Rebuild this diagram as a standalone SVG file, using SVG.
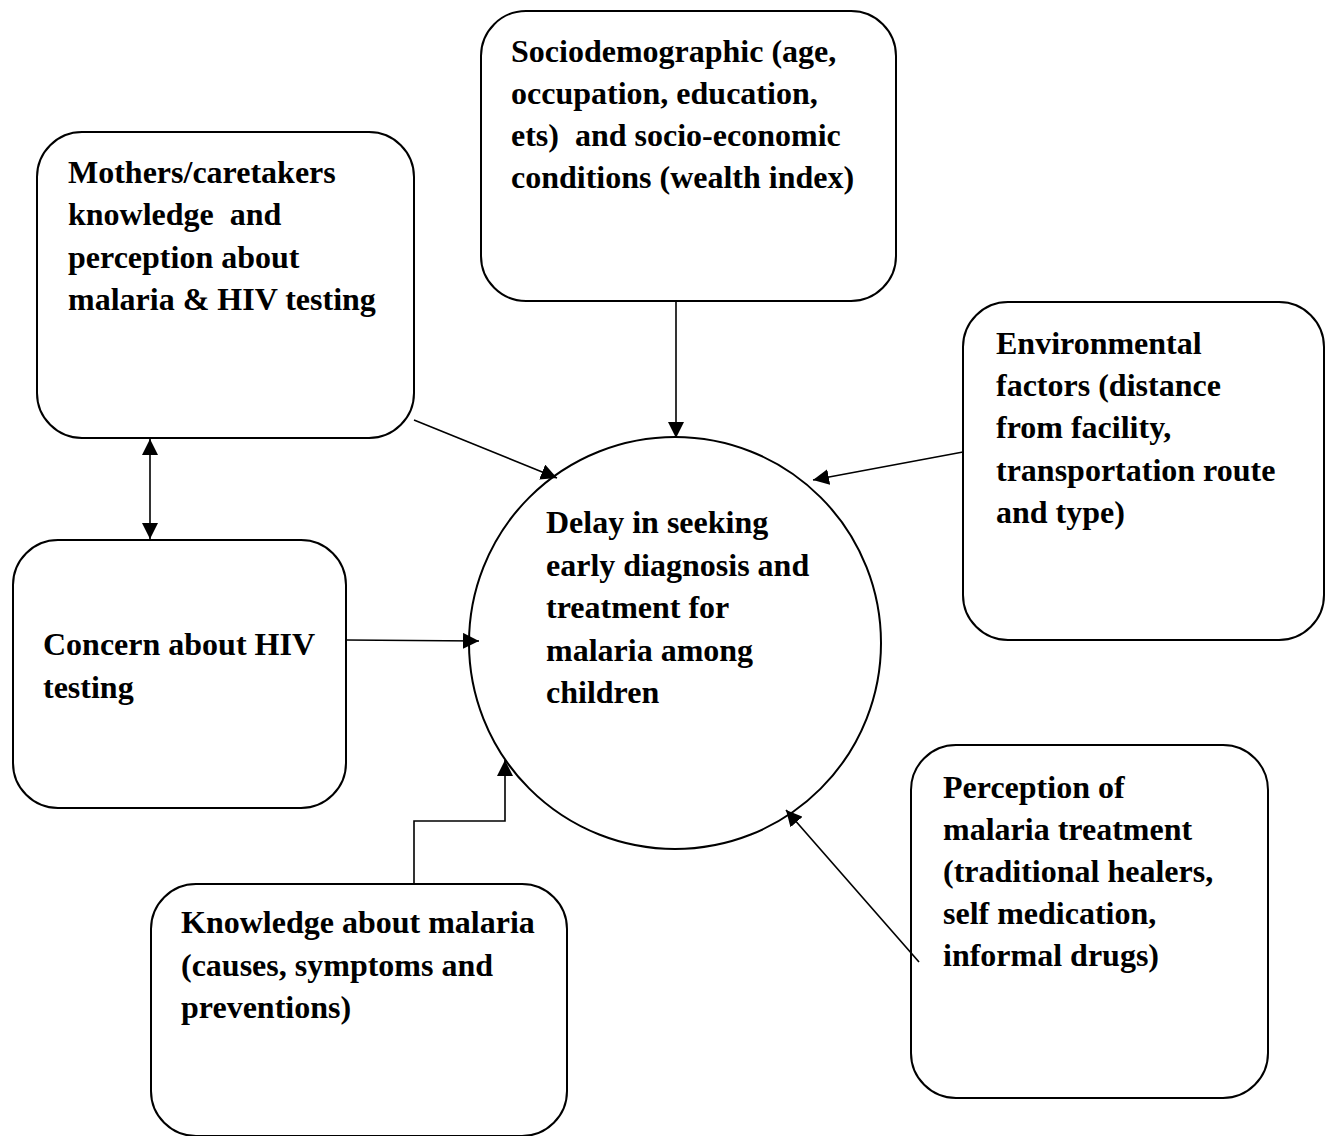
<svg xmlns="http://www.w3.org/2000/svg" width="1330" height="1136" viewBox="0 0 1330 1136">
<defs>
<style>
.box{fill:#fff;stroke:#000;stroke-width:2}
.t{font-family:"Liberation Serif","Times New Roman",serif;font-weight:bold;font-size:32px;fill:#000;white-space:pre}
.c{fill:none;stroke:#000;stroke-width:1.6}
</style>
<marker id="ah" viewBox="0 0 10 10" refX="10" refY="5" markerWidth="16" markerHeight="16" markerUnits="userSpaceOnUse" orient="auto-start-reverse">
<path d="M0,0 L10,5 L0,10 z" fill="#000"/>
</marker>
</defs>
<rect width="1330" height="1136" fill="#fff"/>
<g id="mothers">
<rect class="box" x="37" y="132" width="377" height="306" rx="45"/>
<text class="t" x="68" y="183">Mothers/caretakers</text>
<text class="t" x="68" y="225">knowledge  and</text>
<text class="t" x="68" y="268">perception about</text>
<text class="t" x="68" y="310">malaria &amp; HIV testing</text>
</g>
<g id="socio">
<rect class="box" x="481" y="11" width="415" height="290" rx="45"/>
<text class="t" x="511" y="62">Sociodemographic (age,</text>
<text class="t" x="511" y="104">occupation, education,</text>
<text class="t" x="511" y="146">ets)  and socio-economic</text>
<text class="t" x="511" y="188">conditions (wealth index)</text>
</g>
<g id="env">
<rect class="box" x="963" y="302" width="361" height="338" rx="45"/>
<text class="t" x="996" y="354">Environmental</text>
<text class="t" x="996" y="396">factors (distance</text>
<text class="t" x="996" y="438">from facility,</text>
<text class="t" x="996" y="481">transportation route</text>
<text class="t" x="996" y="523">and type)</text>
</g>
<g id="delay">
<circle cx="675" cy="643" r="206" fill="#fff" stroke="#000" stroke-width="2"/>
<text class="t" x="546" y="533">Delay in seeking</text>
<text class="t" x="546" y="576">early diagnosis and</text>
<text class="t" x="546" y="618">treatment for</text>
<text class="t" x="546" y="661">malaria among</text>
<text class="t" x="546" y="703">children</text>
</g>
<g id="concern">
<rect class="box" x="13" y="540" width="333" height="268" rx="45"/>
<text class="t" x="43" y="655">Concern about HIV</text>
<text class="t" x="43" y="698">testing</text>
</g>
<g id="knowledge">
<rect class="box" x="151" y="884" width="416" height="252" rx="45"/>
<text class="t" x="181" y="933">Knowledge about malaria</text>
<text class="t" x="181" y="976">(causes, symptoms and</text>
<text class="t" x="181" y="1018">preventions)</text>
</g>
<g id="perception">
<rect class="box" x="911" y="745" width="357" height="353" rx="45"/>
<text class="t" x="943" y="798">Perception of</text>
<text class="t" x="943" y="840">malaria treatment</text>
<text class="t" x="943" y="882">(traditional healers,</text>
<text class="t" x="943" y="924">self medication,</text>
<text class="t" x="943" y="966">informal drugs)</text>
</g>
<g id="connectors">
<line class="c" x1="414" y1="420" x2="557" y2="478" marker-end="url(#ah)"/>
<line class="c" x1="676" y1="301" x2="676" y2="438" marker-end="url(#ah)"/>
<line class="c" x1="963" y1="452" x2="813" y2="480" marker-end="url(#ah)"/>
<line class="c" x1="346" y1="640" x2="479" y2="641" marker-end="url(#ah)"/>
<polyline class="c" points="414,884 414,821 505,821 505,760" marker-end="url(#ah)"/>
<line class="c" x1="919" y1="962" x2="786" y2="810" marker-end="url(#ah)"/>
<line class="c" x1="150" y1="439" x2="150" y2="539" marker-start="url(#ah)" marker-end="url(#ah)"/>
</g>
</svg>
